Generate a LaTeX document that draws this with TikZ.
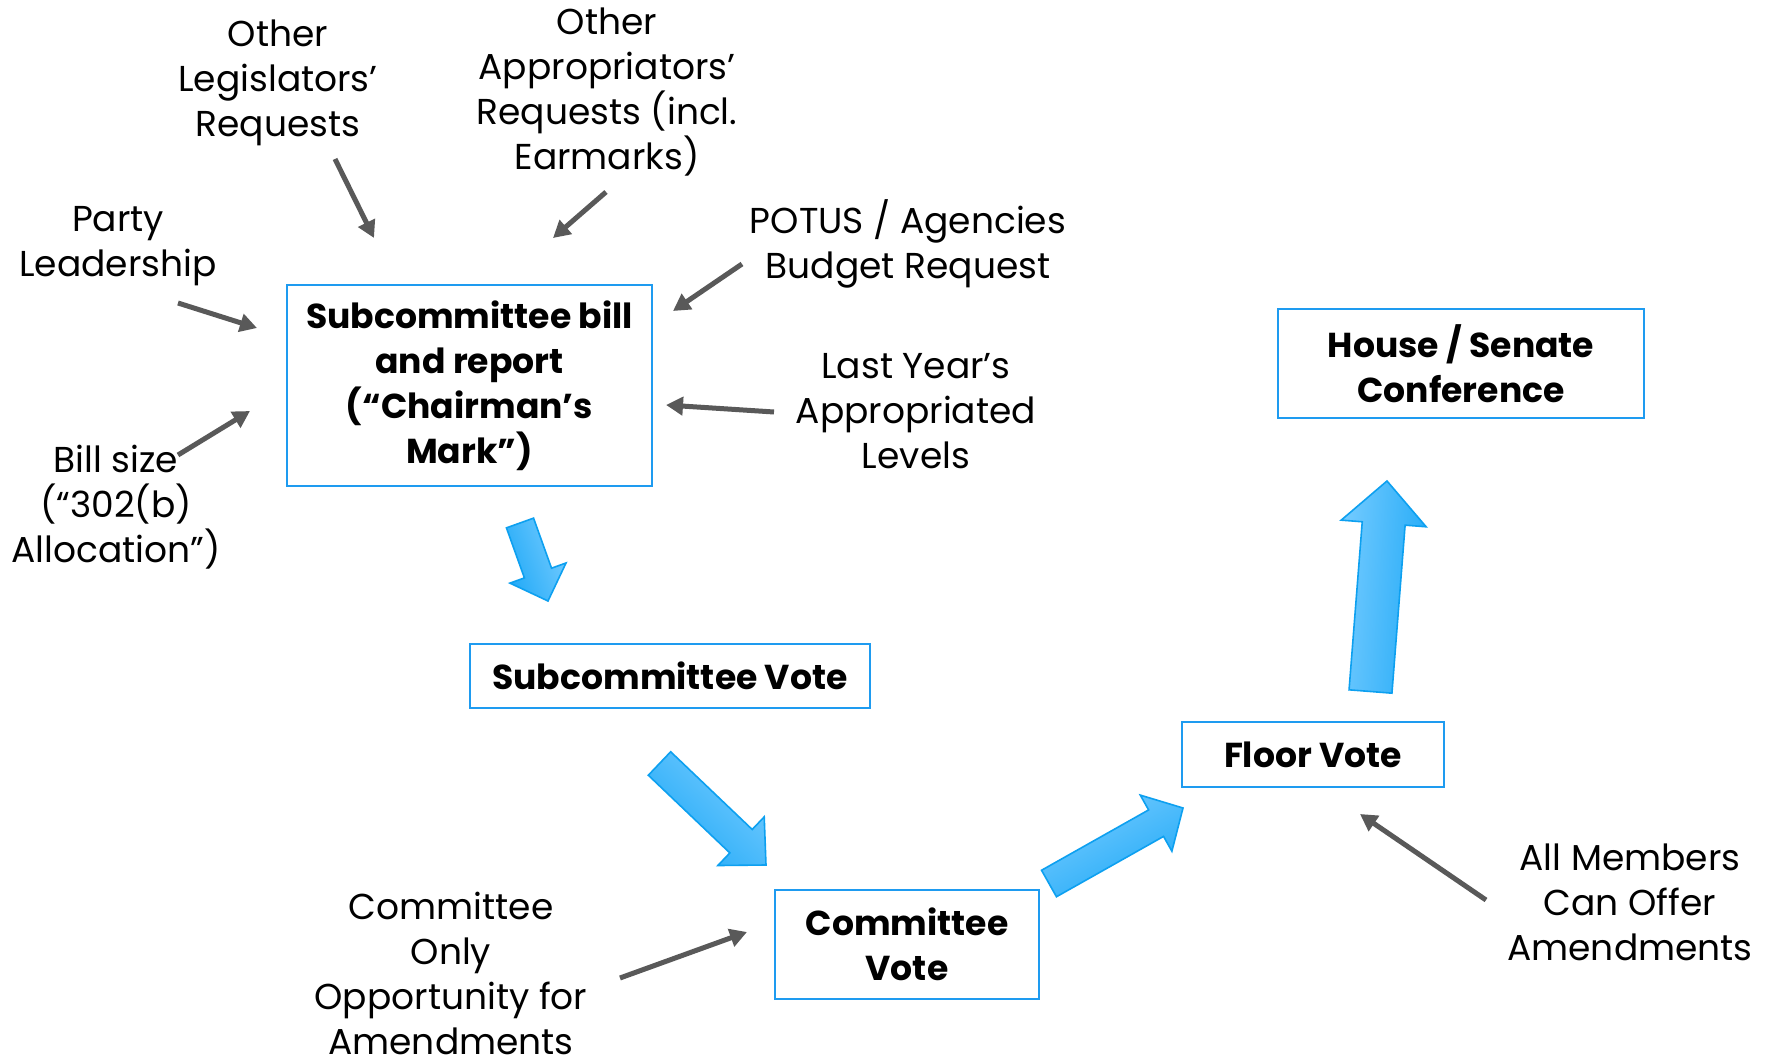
\documentclass[tikz,border=0pt]{standalone}
\usepackage{fontspec}
\setmainfont{Poppins}
\usetikzlibrary{arrows.meta,calc}
\definecolor{boxblue}{HTML}{1E9BF0}
\definecolor{arrgray}{HTML}{595959}
\definecolor{blight}{HTML}{74CBFF}
\definecolor{bdark}{HTML}{22AAF7}
\definecolor{bedge}{HTML}{0DA0F0}
% #1 tail coord, #2 tip coord, #3 half shaft, #4 half head, #5 head length, #6 shading angle
\newcommand\blockarr[6]{%
  \coordinate (#1-b) at ($(#2)!#5!(#1)$);
  \path[draw=bedge, line width=0.8pt, line join=miter, left color=blight, right color=bdark, shading angle=#6]
    ($(#1)!#3!90:(#2)$) -- ($(#1-b)!#3!90:(#2)$) -- ($(#1-b)!#4!90:(#2)$) -- (#2)
    -- ($(#1-b)!#4!-90:(#2)$) -- ($(#1-b)!#3!-90:(#2)$) -- ($(#1)!#3!-90:(#2)$) -- cycle;
}
\begin{document}
\begin{tikzpicture}[x=0.5pt,y=-0.5pt,
  lbl/.style={align=center, inner sep=0pt, font=\fontsize{18}{22.5}\selectfont},
  box/.style={draw=boxblue, line width=1pt, align=center, inner sep=0pt, font=\bfseries\fontsize{17.3}{22.5}\selectfont},
  feed/.style={draw=arrgray, line width=2.5pt, -{Triangle[length=8.5pt,width=9pt]}}]
\useasboundingbox[fill=white] (0,0) rectangle (1769,1064);

% boxes
\node[box, minimum width=182.5pt, minimum height=100.5pt] (bill) at (469.5,385.5) {Subcommittee bill\\and report\\(“Chairman’s\\Mark”)};
\node[box, minimum width=200pt, minimum height=32pt] (subvote) at (670,676) {Subcommittee Vote};
\node[box, minimum width=132pt, minimum height=54.5pt] (comvote) at (907,944.5) {Committee\\Vote};
\node[box, minimum width=131pt, minimum height=32.5pt] (floor) at (1313,754.5) {Floor Vote};
\node[box, minimum width=183pt, minimum height=54.5pt] (conf) at (1461,363.5) {House / Senate\\Conference};

% labels
\node[lbl] (legis) at (278,83) {Other\\Legislators’\\Requests};
\node[lbl] (approp) at (607,92) {Other\\Appropriators’\\Requests (incl.\\Earmarks)};
\node[lbl] (party) at (118,246) {Party\\Leadership};
\node[lbl] (potus) at (908,243.5) {POTUS / Agencies\\Budget Request};
\node[lbl] (last) at (916,411.5) {Last Year’s\\Appropriated\\Levels};
\node[lbl] (size) at (116,507) {Bill size\\(“302(b)\\Allocation”)};
\node[lbl] (only) at (451,973) {Committee\\Only\\Opportunity for\\Amendments};
\node[lbl] (all) at (1630,902.5) {All Members\\Can Offer\\Amendments};

% feed arrow ends
\coordinate (legisS) at (335,159); \coordinate (legisE) at (374,238);
\coordinate (appropS) at (606,192); \coordinate (appropE) at (553,238);
\coordinate (potusS) at (742,264); \coordinate (potusE) at (673,311);
\coordinate (partyS) at (178,303); \coordinate (partyE) at (257,328);
\coordinate (sizeS) at (178,455); \coordinate (sizeE) at (250,411);
\coordinate (lastS) at (774,412); \coordinate (lastE) at (666,405);
\coordinate (onlyS) at (620,978); \coordinate (onlyE) at (747,932);
\coordinate (allS) at (1486,900); \coordinate (allE) at (1360,814);
\draw[feed] (legisS) -- (legisE);
\draw[feed] (appropS) -- (appropE);
\draw[feed] (potusS) -- (potusE);
\draw[feed] (partyS) -- (partyE);
\draw[feed] (sizeS) -- (sizeE);
\draw[feed] (lastS) -- (lastE);
\draw[feed] (onlyS) -- (onlyE);
\draw[feed] (allS) -- (allE);

% block arrows
\coordinate (a1t) at (520,523); \coordinate (a1p) at (548,601);
\coordinate (a2t) at (659.5,763.5); \coordinate (a2p) at (766,865);
\coordinate (a3t) at (1049,883.5); \coordinate (a3p) at (1183,808);
\coordinate (a4t) at (1370.5,691.5); \coordinate (a4p) at (1387,481);
\blockarr{a1t}{a1p}{7.2pt}{14.9pt}{14.85pt}{-70}
\blockarr{a2t}{a2p}{8.1pt}{16.8pt}{17.25pt}{-44}
\blockarr{a3t}{a3p}{7.6pt}{16.1pt}{15.45pt}{29}
\blockarr{a4t}{a4p}{10.75pt}{21.3pt}{21.3pt}{85.5}
\end{tikzpicture}
\end{document}
